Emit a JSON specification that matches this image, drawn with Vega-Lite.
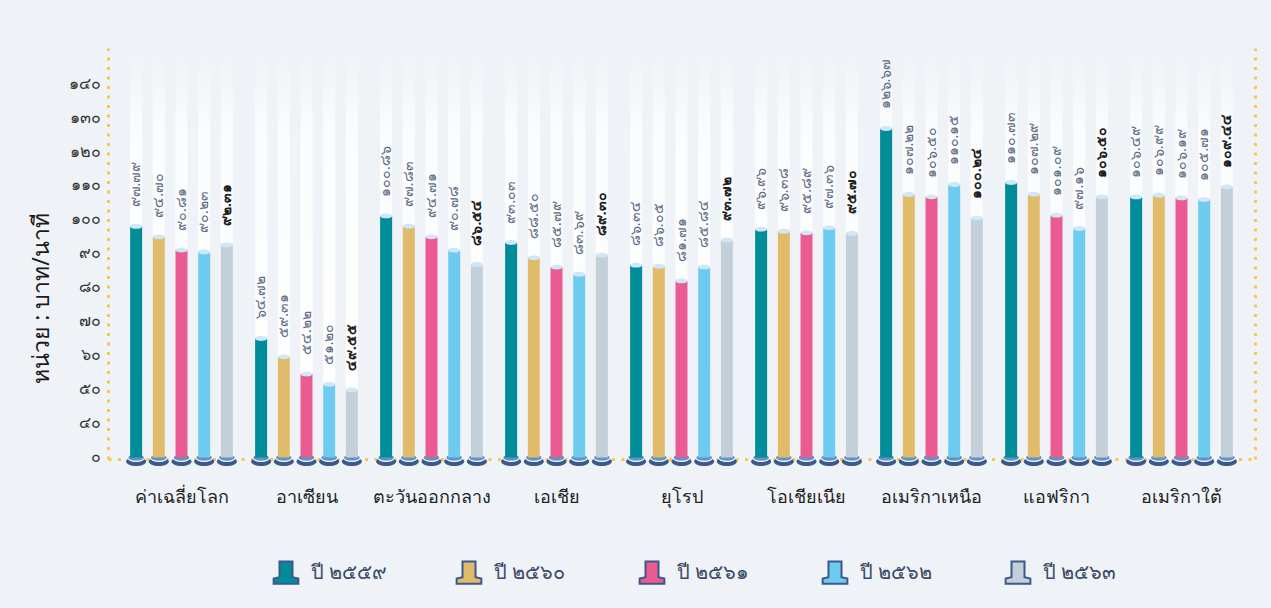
{
  "$schema": "https://vega.github.io/schema/vega-lite/v6.json",
  "width": 1147,
  "height": 411,
  "autosize": {"type": "none"},
  "padding": {"left": 108, "top": 48, "right": 16, "bottom": 149},
  "background": "#eff3f7",
  "config": {
    "view": {"stroke": null},
    "font": "Noto Sans",
    "text": {"font": "Noto Sans"}
  },
  "data": {
    "values": [
      {"region": "ค่าเฉลี่ยโลก", "year": "ปี ๒๕๕๙", "value": 97.79},
      {"region": "ค่าเฉลี่ยโลก", "year": "ปี ๒๕๖๐", "value": 94.70},
      {"region": "ค่าเฉลี่ยโลก", "year": "ปี ๒๕๖๑", "value": 90.81},
      {"region": "ค่าเฉลี่ยโลก", "year": "ปี ๒๕๖๒", "value": 90.23},
      {"region": "ค่าเฉลี่ยโลก", "year": "ปี ๒๕๖๓", "value": 92.31},
      {"region": "อาเซียน", "year": "ปี ๒๕๕๙", "value": 64.72},
      {"region": "อาเซียน", "year": "ปี ๒๕๖๐", "value": 59.31},
      {"region": "อาเซียน", "year": "ปี ๒๕๖๑", "value": 54.22},
      {"region": "อาเซียน", "year": "ปี ๒๕๖๒", "value": 51.20},
      {"region": "อาเซียน", "year": "ปี ๒๕๖๓", "value": 49.55},
      {"region": "ตะวันออกกลาง", "year": "ปี ๒๕๕๙", "value": 100.86},
      {"region": "ตะวันออกกลาง", "year": "ปี ๒๕๖๐", "value": 97.83},
      {"region": "ตะวันออกกลาง", "year": "ปี ๒๕๖๑", "value": 94.71},
      {"region": "ตะวันออกกลาง", "year": "ปี ๒๕๖๒", "value": 90.78},
      {"region": "ตะวันออกกลาง", "year": "ปี ๒๕๖๓", "value": 86.54},
      {"region": "เอเชีย", "year": "ปี ๒๕๕๙", "value": 93.03},
      {"region": "เอเชีย", "year": "ปี ๒๕๖๐", "value": 88.50},
      {"region": "เอเชีย", "year": "ปี ๒๕๖๑", "value": 85.79},
      {"region": "เอเชีย", "year": "ปี ๒๕๖๒", "value": 83.69},
      {"region": "เอเชีย", "year": "ปี ๒๕๖๓", "value": 89.30},
      {"region": "ยุโรป", "year": "ปี ๒๕๕๙", "value": 86.34},
      {"region": "ยุโรป", "year": "ปี ๒๕๖๐", "value": 86.05},
      {"region": "ยุโรป", "year": "ปี ๒๕๖๑", "value": 81.71},
      {"region": "ยุโรป", "year": "ปี ๒๕๖๒", "value": 85.84},
      {"region": "ยุโรป", "year": "ปี ๒๕๖๓", "value": 93.72},
      {"region": "โอเชียเนีย", "year": "ปี ๒๕๕๙", "value": 96.96},
      {"region": "โอเชียเนีย", "year": "ปี ๒๕๖๐", "value": 96.38},
      {"region": "โอเชียเนีย", "year": "ปี ๒๕๖๑", "value": 95.89},
      {"region": "โอเชียเนีย", "year": "ปี ๒๕๖๒", "value": 97.36},
      {"region": "โอเชียเนีย", "year": "ปี ๒๕๖๓", "value": 95.70},
      {"region": "อเมริกาเหนือ", "year": "ปี ๒๕๕๙", "value": 126.67},
      {"region": "อเมริกาเหนือ", "year": "ปี ๒๕๖๐", "value": 107.22},
      {"region": "อเมริกาเหนือ", "year": "ปี ๒๕๖๑", "value": 106.50},
      {"region": "อเมริกาเหนือ", "year": "ปี ๒๕๖๒", "value": 110.15},
      {"region": "อเมริกาเหนือ", "year": "ปี ๒๕๖๓", "value": 100.24},
      {"region": "แอฟริกา", "year": "ปี ๒๕๕๙", "value": 110.73},
      {"region": "แอฟริกา", "year": "ปี ๒๕๖๐", "value": 107.29},
      {"region": "แอฟริกา", "year": "ปี ๒๕๖๑", "value": 101.09},
      {"region": "แอฟริกา", "year": "ปี ๒๕๖๒", "value": 97.16},
      {"region": "แอฟริกา", "year": "ปี ๒๕๖๓", "value": 106.50},
      {"region": "อเมริกาใต้", "year": "ปี ๒๕๕๙", "value": 106.49},
      {"region": "อเมริกาใต้", "year": "ปี ๒๕๖๐", "value": 106.99},
      {"region": "อเมริกาใต้", "year": "ปี ๒๕๖๑", "value": 106.19},
      {"region": "อเมริกาใต้", "year": "ปี ๒๕๖๒", "value": 105.71},
      {"region": "อเมริกาใต้", "year": "ปี ๒๕๖๓", "value": 109.44}
    ]
  },
  "transform": [
    {"calculate": "replace(replace(replace(replace(replace(replace(replace(replace(replace(replace(format(datum.value, '.2f'), regexp('0','g'),'๐'), regexp('1','g'),'๑'), regexp('2','g'),'๒'), regexp('3','g'),'๓'), regexp('4','g'),'๔'), regexp('5','g'),'๕'), regexp('6','g'),'๖'), regexp('7','g'),'๗'), regexp('8','g'),'๘'), regexp('9','g'),'๙')", "as": "lbl"}
  ],
  "encoding": {
    "x": {
      "field": "region",
      "type": "nominal",
      "sort": null,
      "scale": {"paddingInner": 0, "paddingOuter": 0.088},
      "axis": {
        "title": null,
        "labelAngle": 0,
        "labelFontSize": 18,
        "labelColor": "#222222",
        "labelBaseline": "middle",
        "labelPadding": 38,
        "ticks": false,
        "tickSize": 0,
        "domainColor": "#fcc54e",
        "domainWidth": 3,
        "domainDash": [3, 6.5]
      }
    },
    "xOffset": {
      "field": "year",
      "type": "nominal",
      "sort": null,
      "scale": {"paddingInner": 0.47, "paddingOuter": 0.49}
    }
  },
  "layer": [
    {
      "mark": {
        "type": "bar",
        "fill": {
          "gradient": "linear",
          "x1": 0, "y1": 0, "x2": 0, "y2": 1,
          "stops": [
            {"offset": 0, "color": "#eff3f7"},
            {"offset": 0.2, "color": "#fbfcfd"},
            {"offset": 1, "color": "#ffffff"}
          ]
        }
      },
      "encoding": {
        "y": {
          "datum": 148.3,
          "type": "quantitative",
          "scale": {"domain": [29.17, 150.41], "nice": false, "zero": false},
          "axis": {
            "orient": "left",
            "title": "หน่วย : บาท/นาที",
            "titleFontSize": 23,
            "titleFontWeight": "normal",
            "titleColor": "#1a1a1a",
            "titleAngle": -90,
            "titleAlign": "center",
            "titleBaseline": "middle",
            "titleX": -67,
            "titleY": 250,
            "values": [30, 40, 50, 60, 70, 80, 90, 100, 110, 120, 130, 140],
            "labelExpr": "datum.value == 30 ? '๐' : replace(replace(replace(replace(replace(replace(replace(replace(replace(replace(datum.label, regexp('0','g'),'๐'), regexp('1','g'),'๑'), regexp('2','g'),'๒'), regexp('3','g'),'๓'), regexp('4','g'),'๔'), regexp('5','g'),'๕'), regexp('6','g'),'๖'), regexp('7','g'),'๗'), regexp('8','g'),'๘'), regexp('9','g'),'๙')",
            "labelFontSize": 16,
            "labelColor": "#333333",
            "labelPadding": 8,
            "ticks": false,
            "tickSize": 0,
            "grid": false,
            "domainColor": "#fcc54e",
            "domainWidth": 3,
            "domainDash": [3, 6.5]
          }
        },
        "y2": {"datum": 29.17}
      }
    },
    {
      "mark": {
        "type": "point",
        "shape": "M -1 0.3 A 1 0.45 0 1 0 1 0.3 A 1 0.45 0 1 0 -1 0.3 Z",
        "filled": true,
        "fill": "#3c5987",
        "opacity": 1,
        "size": 400
      },
      "encoding": {
        "y": {"datum": 29.3, "type": "quantitative", "axis": null}
      }
    },
    {
      "mark": {
        "type": "point",
        "shape": "M -0.85 0 A 0.85 0.38 0 1 0 0.85 0 A 0.85 0.38 0 1 0 -0.85 0 Z",
        "filled": true,
        "fill": "#5f93cb",
        "stroke": "#ffffff",
        "strokeWidth": 1.2,
        "opacity": 1,
        "size": 400
      },
      "encoding": {
        "y": {"datum": 29.6, "type": "quantitative", "axis": null}
      }
    },
    {
      "mark": {"type": "bar"},
      "encoding": {
        "y": {"field": "value", "type": "quantitative", "axis": null},
        "y2": {"datum": 29.6},
        "color": {
          "field": "year",
          "type": "nominal",
          "sort": null,
          "scale": {
            "domain": ["ปี ๒๕๕๙", "ปี ๒๕๖๐", "ปี ๒๕๖๑", "ปี ๒๕๖๒", "ปี ๒๕๖๓"],
            "range": ["#008c98", "#e0bb6a", "#ea5b91", "#6dcbf0", "#c3cfd9"]
          },
          "legend": {
            "title": null,
            "orient": "none",
            "legendX": 164,
            "legendY": 511,
            "direction": "horizontal",
            "columns": 5,
            "gridAlign": "all",
            "columnPadding": 64,
            "symbolType": "M -0.5 -0.9 L 0.5 -0.9 L 0.5 0.3 L 0.95 0.4 L 0.95 0.8 L -0.95 0.8 L -0.95 0.4 L -0.5 0.3 Z",
            "symbolSize": 676,
            "symbolStrokeColor": "#3c5987",
            "symbolStrokeWidth": 2,
            "symbolOpacity": 1,
            "labelFontSize": 20,
            "labelColor": "#3b4a66",
            "labelOffset": 11
          }
        }
      }
    },
    {
      "mark": {
        "type": "point",
        "shape": "M -1 0 A 1 0.4 0 1 0 1 0 A 1 0.4 0 1 0 -1 0 Z",
        "filled": true,
        "fill": "#cfe7f7",
        "opacity": 1,
        "size": 144
      },
      "encoding": {
        "y": {
          "field": "value",
          "type": "quantitative",
          "axis": {
            "orient": "right",
            "title": null,
            "labels": false,
            "ticks": false,
            "tickSize": 0,
            "grid": false,
            "domainColor": "#fcc54e",
            "domainWidth": 3,
            "domainDash": [3, 6.5]
          }
        }
      }
    },
    {
      "transform": [{"filter": "datum.year != 'ปี ๒๕๖๓'"}],
      "mark": {
        "type": "text",
        "angle": 270,
        "align": "left",
        "baseline": "middle",
        "dx": 19,
        "fontSize": 14,
        "color": "#5d6b85"
      },
      "encoding": {
        "y": {"field": "value", "type": "quantitative", "axis": null},
        "text": {"field": "lbl", "type": "nominal"}
      }
    },
    {
      "transform": [{"filter": "datum.year == 'ปี ๒๕๖๓'"}],
      "mark": {
        "type": "text",
        "angle": 270,
        "align": "left",
        "baseline": "middle",
        "dx": 19,
        "fontSize": 14,
        "fontWeight": "bold",
        "color": "#1f1f1f"
      },
      "encoding": {
        "y": {"field": "value", "type": "quantitative", "axis": null},
        "text": {"field": "lbl", "type": "nominal"}
      }
    }
  ],
  "resolve": {"axis": {"y": "independent"}}
}
